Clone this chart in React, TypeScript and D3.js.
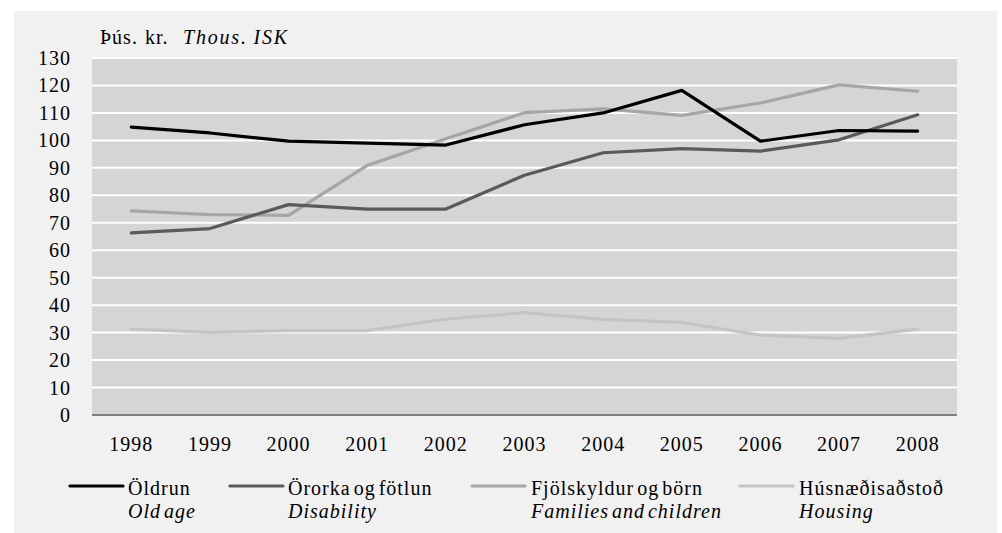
import React from "react";
import * as d3 from "d3";

const years = ["1998","1999","2000","2001","2002","2003","2004","2005","2006","2007","2008"];
const oldAge = [104.8, 102.7, 99.7, 99.0, 98.3, 105.7, 110.0, 118.2, 99.7, 103.6, 103.4];
const disability = [66.3, 67.9, 76.6, 75.0, 75.0, 87.3, 95.5, 97.0, 96.1, 100.2, 109.3];
const families = [74.3, 73.0, 72.7, 90.9, 100.6, 110.1, 111.5, 109.1, 113.6, 120.2, 117.9];
const housing = [31.3, 30.1, 30.7, 30.7, 34.9, 37.3, 34.8, 33.7, 29.1, 27.9, 31.3];
const yTicks = [0,10,20,30,40,50,60,70,80,90,100,110,120,130];

const seriesNames = ["Öldrun", "Örorka og fötlun", "Fjölskyldur og börn", "Húsnæðisaðstoð"];
const seriesNamesEn = ["Old age", "Disability", "Families and children", "Housing"];
const seriesColors = ["#000000", "#5a5a5a", "#a6a6a6", "#c4c4c4"];

const W = 1002, H = 533;
const plot = { left: 92, right: 957, top: 58, bottom: 415 };
const txtStyle: React.CSSProperties = {
  fontFamily: '"Liberation Serif", "Times New Roman", Times, serif',
  fontSize: "20px",
  letterSpacing: "1px",
  wordSpacing: "-3px",
};

export default function App() {
  const x = d3.scaleBand<string>().domain(years).range([plot.left, plot.right]);
  const y = d3.scaleLinear().domain([0, 130]).range([plot.bottom, plot.top]);
  const line = d3.line<number>().x((_, i) => (x(years[i]) as number) + x.bandwidth() / 2).y(d => y(d));
  const all = [oldAge, disability, families, housing];
  const drawOrder = [3, 2, 1, 0];
  const legendLineX = [70, 230, 472, 740];
  const legendTextX = [128, 288, 531, 799];
  return (
    <svg width={W} height={H} style={{ position: "absolute", left: 0, top: 0, display: "block" }}>
      <rect x={0} y={0} width={W} height={H} fill="#ffffff" />
      <rect x={14} y={11} width={983} height={H - 11} fill="#f1f1f1" />
      <rect x={plot.left} y={plot.top} width={plot.right - plot.left} height={plot.bottom - plot.top} fill="#d5d5d5" />
      {yTicks.filter(t => t > 0).map(t => (
        <line key={t} x1={plot.left} x2={plot.right} y1={y(t)} y2={y(t)} stroke="#ffffff" strokeWidth={2} />
      ))}
      <line x1={plot.left} x2={plot.right} y1={y(0)} y2={y(0)} stroke="#808080" strokeWidth={2} />
      <g style={txtStyle} fill="#000">
        {yTicks.map(t => (
          <text key={t} x={71} y={y(t) + 7} textAnchor="end">{t}</text>
        ))}
        {years.map(yr => (
          <text key={yr} x={(x(yr) as number) + x.bandwidth() / 2} y={451} textAnchor="middle">{yr}</text>
        ))}
        <text x={100} y={44} style={{ wordSpacing: "1px" }}>Þús. kr.</text>
        <text x={183} y={44} fontStyle="italic" style={{ letterSpacing: "1.8px", wordSpacing: "-1px" }}>Thous. ISK</text>
        {seriesNames.map((n, i) => (
          <g key={n}>
            <text x={legendTextX[i]} y={495}>{n}</text>
            <text x={legendTextX[i]} y={518} fontStyle="italic">{seriesNamesEn[i]}</text>
          </g>
        ))}
      </g>
      {drawOrder.map(i => (
        <path key={i} d={line(all[i]) || ""} fill="none" stroke={seriesColors[i]} strokeWidth={3.2} strokeLinejoin="round" strokeLinecap="round" />
      ))}
      {seriesNames.map((n, i) => (
        <line key={n} x1={legendLineX[i]} x2={legendLineX[i] + 53} y1={486} y2={486} stroke={seriesColors[i]} strokeWidth={3.2} strokeLinecap="round" />
      ))}
    </svg>
  );
}
